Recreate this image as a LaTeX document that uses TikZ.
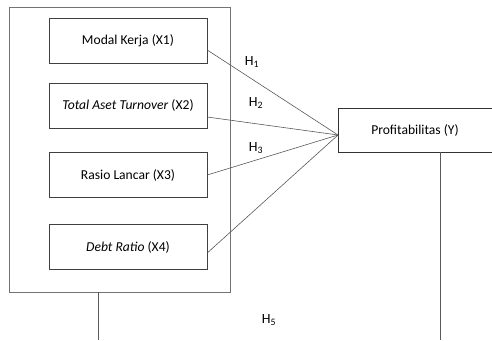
\documentclass[tikz,border=0pt]{standalone}
\usepackage{fontspec}
\setmainfont{Carlito}
\tikzset{
  varbox/.style={draw=black!75, minimum width=158pt, minimum height=45pt, inner sep=0pt},
  link/.style={black!65, line width=0.6pt},
  hlabel/.style={font=\fontsize{14}{16}\selectfont, inner sep=0pt}
}
\begin{document}
\begin{tikzpicture}[x=1pt, y=-1pt, font=\fontsize{13.6}{16}\selectfont]
  \useasboundingbox (0,0) rectangle (492,340);
  \clip (0,0) rectangle (492,340);
  % Outer frame around the independent variables
  \node[draw=black!55, line width=0.6pt, minimum width=221pt, minimum height=285pt, inner sep=0pt] (frame) at (119.5,149.5) {};
  % Independent variables
  \node[varbox] (x1) at (128,40.5) {Modal Kerja (X1)};
  \node[varbox] (x2) at (128,105.5) {\textit{Total Aset Turnover} (X2)};
  \node[varbox] (x3) at (128,175) {Rasio Lancar (X3)};
  \node[varbox] (x4) at (128,247) {\textit{Debt Ratio} (X4)};
  % Dependent variable
  \node[draw=black!80, minimum width=154pt, minimum height=44pt, inner sep=0pt] (y) at (415,130) {Profitabilitas (Y)};
  \coordinate (hub) at (338,135);
  % Hypothesis lines
  \draw[link] ([yshift=-9.5pt]x1.east) -- (hub);
  \draw[link] ([yshift=-11.5pt]x2.east) -- (hub);
  \draw[link] (x3.east) -- (hub);
  \draw[link] ([yshift=-6pt]x4.east) -- (hub);
  \node[hlabel] (h1) at (252,62) {H\textsubscript{1}};
  \node[hlabel] (h2) at (256,103) {H\textsubscript{2}};
  \node[hlabel] (h3) at (256,148) {H\textsubscript{3}};
  % Simultaneous path (H5)
  \coordinate (leftend) at (98,340);
  \coordinate (rightend) at (440,340);
  \draw[link] (frame.south -| leftend) -- (leftend);
  \draw[link] (y.south -| rightend) -- (rightend);
  \node[hlabel] (h5) at (269,320) {H\textsubscript{5}};
\end{tikzpicture}
\end{document}
